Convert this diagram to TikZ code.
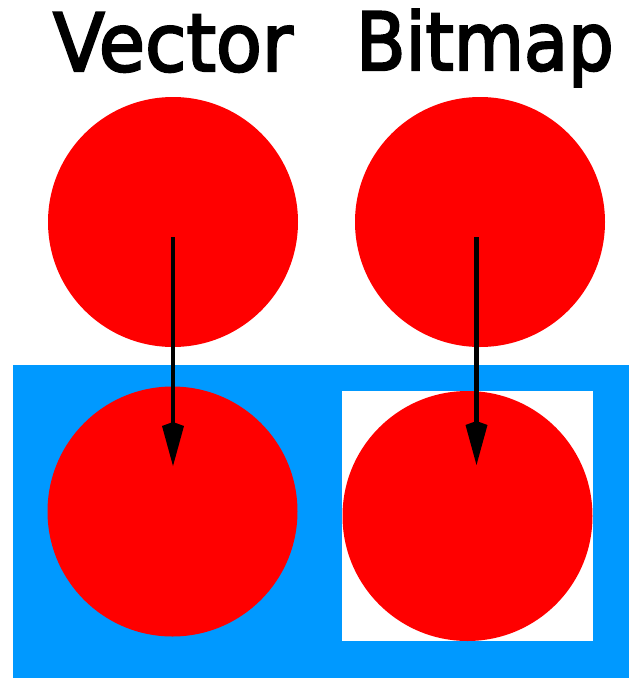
\documentclass[tikz,border=0pt]{standalone}
\usepackage{fontspec}
\setmainfont{DejaVu Sans}
\newfontfamily\headfont[FakeBold=3]{DejaVu Sans}
\usetikzlibrary{arrows.meta}
\definecolor{skyblue}{RGB}{0,153,255}
\definecolor{pure red}{RGB}{255,0,0}
\tikzset{
  disc/.style={circle, fill=pure red, draw=none, minimum size=250pt, inner sep=0pt},
  title/.style={anchor=base west, inner sep=0pt, font=\headfont\fontsize{80}{80}\selectfont},
  movearrow/.style={line width=4.5pt, -{Kite[length=44pt,width=22pt,inset=4pt]}}
}
\begin{document}
\begin{tikzpicture}[x=1pt,y=-1pt]
\useasboundingbox (0,0) rectangle (629,678);
\fill[white] (0,0) rectangle (629,678);
% titles
\node[title] (vt) at (53,71) {\scalebox{0.94}[1]{Vector}};
\node[title] (bt) at (356,70) {\scalebox{0.90}[1]{Bitmap}};
% backgrounds
\fill[skyblue] (13,365) rectangle (629,678);
\fill[white] (342,391) rectangle (593,641);
% circles
\node[disc] (vtop) at (173,222) {};
\node[disc] (btop) at (480,222) {};
\node[disc] (vbot) at (172.5,511.5) {};
\node[disc] (bbot) at (467.5,516) {};
% arrow ends
\coordinate (vs) at (173,237);
\coordinate (ve) at (173,466);
\coordinate (bs) at (476.5,237);
\coordinate (be) at (476.5,465);
\draw[movearrow] (vs) -- (ve);
\draw[movearrow] (bs) -- (be);
\end{tikzpicture}
\end{document}
